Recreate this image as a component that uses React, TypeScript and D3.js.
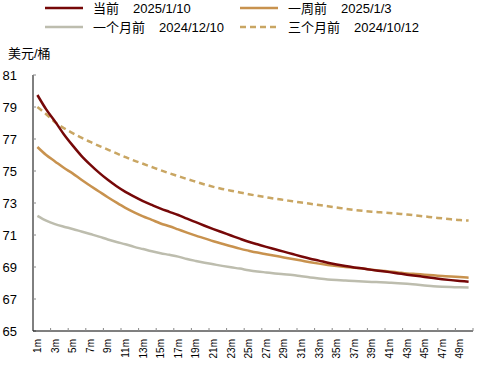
import React from 'react';
import * as d3 from 'd3';

// tenor months 1m..50m
const months = d3.range(1, 51).map(m => `${m}m`);

const current = [
  79.75, 78.85, 78.1, 77.3, 76.6, 75.95, 75.4, 74.9, 74.45, 74.05,
  73.7, 73.4, 73.12, 72.88, 72.65, 72.45, 72.25, 72.02, 71.8, 71.58,
  71.37, 71.17, 70.97, 70.77, 70.58, 70.42, 70.26, 70.11, 69.96, 69.81,
  69.66, 69.52, 69.4, 69.27, 69.16, 69.06, 68.97, 68.9, 68.82, 68.75,
  68.68, 68.6, 68.52, 68.45, 68.38, 68.31, 68.24, 68.18, 68.13, 68.08,
];
const weekAgo = [
  76.5, 76.0, 75.6, 75.2, 74.85, 74.45, 74.08, 73.72, 73.36, 73.02,
  72.7, 72.42, 72.17, 71.95, 71.72, 71.55, 71.35, 71.15, 70.96, 70.79,
  70.61, 70.45, 70.3, 70.15, 70.02, 69.9, 69.8, 69.7, 69.6, 69.5,
  69.4, 69.3, 69.21, 69.13, 69.06, 69.0, 68.95, 68.9, 68.83, 68.77,
  68.72, 68.66, 68.6, 68.56, 68.52, 68.48, 68.44, 68.4, 68.37, 68.33,
];
const monthAgo = [
  72.2, 71.9, 71.68, 71.52, 71.38, 71.22, 71.06, 70.9, 70.72, 70.56,
  70.42, 70.26, 70.12, 69.98, 69.86, 69.76, 69.65, 69.5, 69.38, 69.27,
  69.17, 69.07, 68.98, 68.9, 68.8, 68.72, 68.66, 68.6, 68.55, 68.5,
  68.42, 68.35, 68.28, 68.22, 68.18, 68.15, 68.12, 68.1, 68.07, 68.05,
  68.02, 67.99, 67.95, 67.9, 67.85, 67.8, 67.77, 67.75, 67.73, 67.72,
];
const threeMonthsAgo = [
  79.0, 78.55, 78.05, 77.68, 77.37, 77.08, 76.82, 76.57, 76.34, 76.1,
  75.87, 75.65, 75.45, 75.25, 75.05, 74.86, 74.68, 74.5, 74.33, 74.16,
  74.01, 73.88, 73.77, 73.66, 73.55, 73.45, 73.36, 73.27, 73.19, 73.11,
  73.03, 72.95, 72.87, 72.8, 72.72, 72.64, 72.57, 72.51, 72.46, 72.42,
  72.38, 72.33, 72.28, 72.22, 72.16, 72.1, 72.04, 71.98, 71.93, 71.9,
];

const seriesNames = ['当前', '一周前', '一个月前', '三个月前'];
const seriesDates = ['2025/1/10', '2025/1/3', '2024/12/10', '2024/10/12'];
const yTicks = [65, 67, 69, 71, 73, 75, 77, 79, 81];

const FONT = '"Liberation Sans", Arial, "Noto Sans CJK SC", sans-serif';

const App = () => {
  const width = 484;
  const height = 370;
  const margin = { top: 75, right: 11, bottom: 39, left: 33 };

  const x = d3.scaleBand<string>()
    .domain(months)
    .range([margin.left, width - margin.right])
    .padding(0);
  const y = d3.scaleLinear()
    .domain([65, 81])
    .range([height - margin.bottom, margin.top]);

  const series = [
    { name: seriesNames[0], date: seriesDates[0], values: current, color: '#760808', dash: null },
    { name: seriesNames[1], date: seriesDates[1], values: weekAgo, color: '#c8924e', dash: null },
    { name: seriesNames[2], date: seriesDates[2], values: monthAgo, color: '#bdbdae', dash: null },
    { name: seriesNames[3], date: seriesDates[3], values: threeMonthsAgo, color: '#c9a663', dash: '6,4' },
  ];

  const line = d3.line<number>()
    .x((_, i) => (x(months[i]) as number) + x.bandwidth() / 2)
    .y(d => y(d))
    .curve(d3.curveMonotoneX);

  const x0 = margin.left;
  const x1 = width - margin.right;
  const yBase = y(65);

  // ticks every two categories, labels on odd months
  const tickXs = months.filter((_, i) => i % 2 === 0 && i > 0).map(m => x(m) as number).concat([x1]);
  const labelled = months.filter((_, i) => i % 2 === 0);

  // legend layout
  const legendCols = [45, 240];
  const legendRows = [8, 27];
  const dateOffsets = [40, 53, 66, 66];

  return (
    <svg width={width} height={height} style={{ position: 'absolute', left: 0, top: 0 }} fontFamily={FONT}>
      {/* legend */}
      {series.map((s, i) => {
        const lx = legendCols[i % 2];
        const ly = legendRows[Math.floor(i / 2)];
        return (
          <g key={s.name}>
            <line x1={lx} x2={lx + 38} y1={ly} y2={ly} stroke={s.color} strokeWidth={2.5}
              strokeDasharray={s.dash || undefined} />
            <text x={lx + 48} y={ly + 4.5} fontSize={13} fill="#000">{s.name}</text>
            <text x={lx + 48 + dateOffsets[i]} y={ly + 4.5} fontSize={13} fill="#000">{s.date}</text>
          </g>
        );
      })}

      {/* unit */}
      <text x={8} y={58} fontSize={13} fill="#000">美元/桶</text>

      {/* y axis */}
      <line x1={x0} x2={x0} y1={y(81)} y2={yBase} stroke="#000" strokeWidth={1} />
      {yTicks.map(t => (
        <g key={t}>
          <line x1={x0} x2={x0 + 3} y1={y(t)} y2={y(t)} stroke="#888" strokeWidth={1} />
          <text x={17} y={y(t) + 4.5} fontSize={13} textAnchor="end" fill="#000">{t}</text>
        </g>
      ))}

      {/* x axis */}
      <line x1={x0} x2={x1} y1={yBase} y2={yBase} stroke="#000" strokeWidth={1} />
      {tickXs.map((tx, i) => (
        <line key={i} x1={tx} x2={tx} y1={yBase} y2={yBase - 3} stroke="#888" strokeWidth={1} />
      ))}
      {labelled.map(m => {
        const cx = (x(m) as number) + x.bandwidth() / 2;
        return (
          <text key={m} transform={`translate(${cx + 3.5},${yBase + 8}) rotate(-90)`}
            fontSize={10} textAnchor="end" fill="#000">{m}</text>
        );
      })}

      {/* lines: draw back to front */}
      {[2, 3, 1, 0].map(i => (
        <path key={series[i].name} d={line(series[i].values) || ''} fill="none"
          stroke={series[i].color} strokeWidth={2.5}
          strokeDasharray={series[i].dash || undefined} />
      ))}
    </svg>
  );
};

export default App;
